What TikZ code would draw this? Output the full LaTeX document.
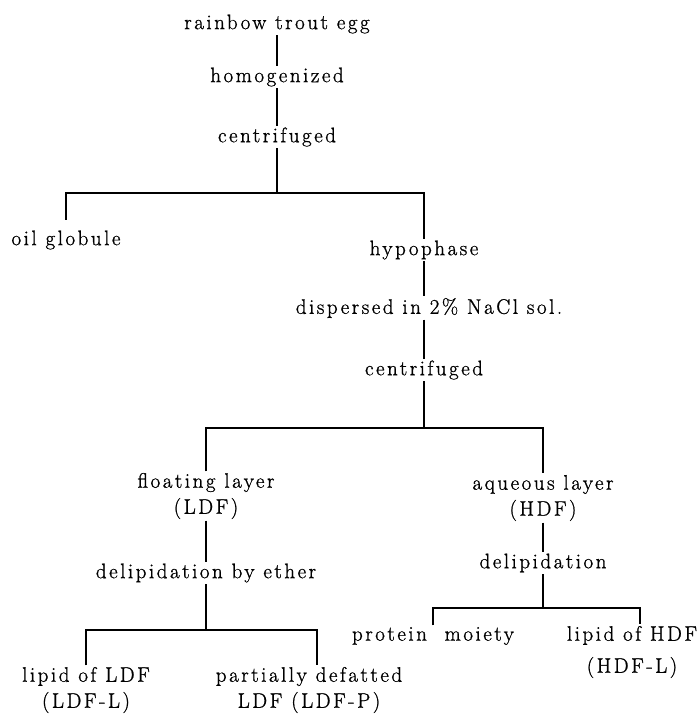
\documentclass[tikz,border=0pt]{standalone}
\usepackage{fontspec}
\setmainfont{Latin Modern Roman}[LetterSpace=12, FakeBold=1]

\begin{document}
\begin{tikzpicture}[
    x=1pt, y=-1pt,
    font=\fontsize{21}{26}\selectfont,
    stage/.style={inner sep=1.5pt, align=center},
    link/.style={line width=1.7pt, draw=black}
]
\useasboundingbox (0,0) rectangle (699,717);

% Egg preparation
\node[stage] (egg)  at (277,24)  {rainbow trout egg};
\node[stage] (hom)  at (277,77)  {homogenized};
\node[stage] (cenA) at (277,137) {centrifuged};

% First separation
\node[stage] (oil)  at (66,240)  {oil globule};
\node[stage] (hypo) at (424,250) {hypophase};
\node[stage] (disp) at (429,308) {dispersed in 2\% NaCl sol.};
\node[stage] (cenB) at (424,370) {centrifuged};

% Second separation
\node[stage] (float) at (206,496) {floating layer\\(LDF)};
\node[stage] (aq)    at (543,498) {aqueous layer\\(HDF)};
\node[stage] (delE)  at (206,573) {delipidation by ether};
\node[stage] (delH)  at (543,563) {delipidation};

% Final fractions
\node[stage] (lipL) at (86,690)  {lipid of LDF\\(LDF-L)};
\node[stage] (part) at (309,690) {partially defatted\\LDF (LDF-P)};
\node[stage] (prot) at (433,636) {protein\ \ moiety};
\node[stage] (lipH) at (632,652) {lipid of HDF\\[6pt](HDF-L)};

% Branch points
\coordinate (barA) at (277,193);
\coordinate (barB) at (424,428);
\coordinate (barC) at (206,630);
\coordinate (barD) at (543,608);

% Connections
\draw[link] (egg) -- (hom);
\draw[link] (hom) -- (cenA);
\draw[link] (cenA) -- (barA);
\draw[link] ([yshift=9pt]oil.north) |- (barA) -| (hypo);
\draw[link] (hypo) -- (hypo |- disp.north);
\draw[link] (hypo |- disp.south) -- (cenB);
\draw[link] (cenB) -- (barB);
\draw[link] (float) |- (barB) -| (aq);
\draw[link] (float) -- (delE);
\draw[link] (delE) -- (barC);
\draw[link] (lipL) |- (barC) -| ([xshift=8pt]part.north);
\draw[link] (aq) -- (delH);
\draw[link] (delH) -- (barD);
\draw[link] (prot) |- (barD) -| ([xshift=8pt]lipH.north);

\end{tikzpicture}
\end{document}
